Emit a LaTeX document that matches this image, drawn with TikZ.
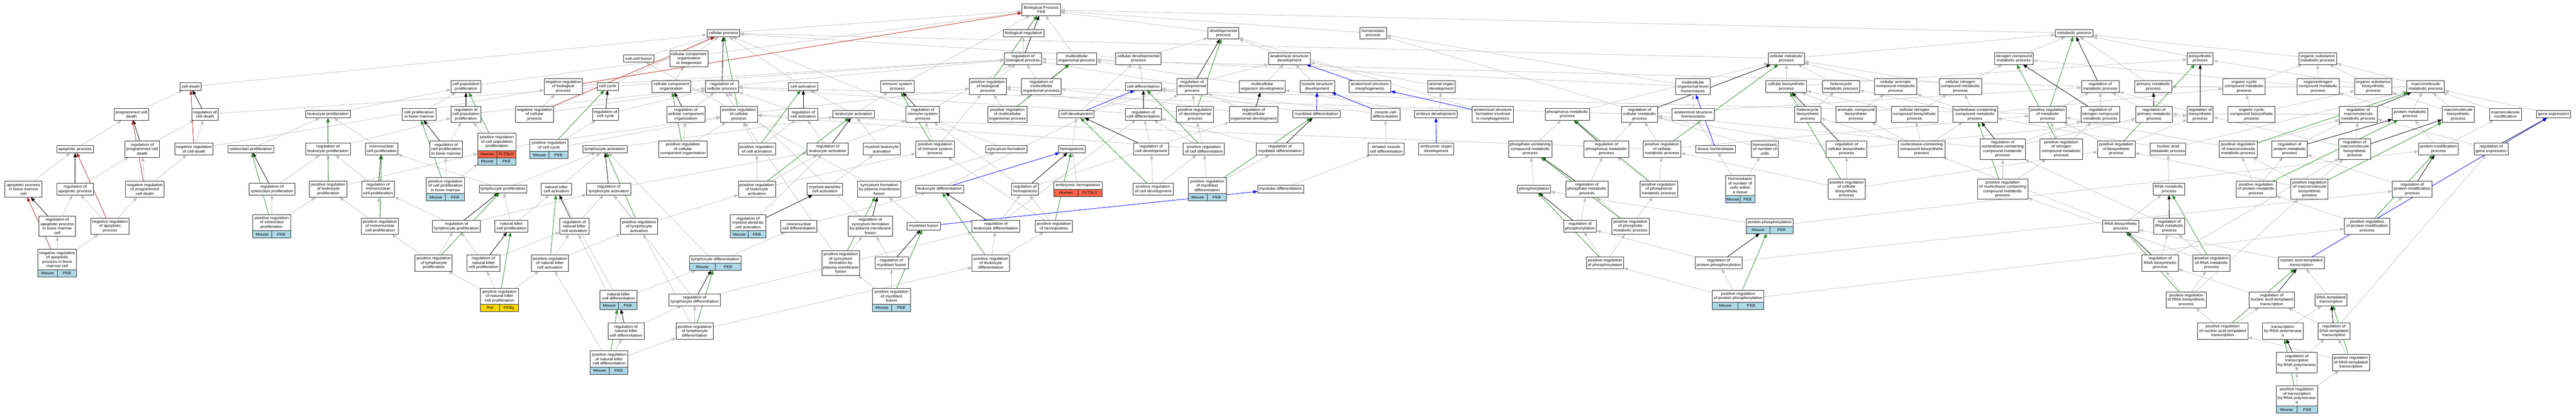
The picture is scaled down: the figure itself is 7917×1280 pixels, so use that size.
\documentclass[tikz,border=0pt]{standalone}
\usepackage{fontspec}
\setmainfont{Liberation Sans}[FakeStretch=1.12]
\usetikzlibrary{arrows.meta,backgrounds}
\definecolor{gedge}{RGB}{192,192,192}
\definecolor{gpos}{RGB}{34,139,34}
\definecolor{gneg}{RGB}{178,34,34}
\definecolor{gpart}{RGB}{0,0,255}
\definecolor{gborder}{RGB}{45,45,45}
\definecolor{mouse}{RGB}{173,216,230}
\definecolor{human}{RGB}{255,99,71}
\definecolor{rat}{RGB}{255,215,0}
\tikzset{
 gofont/.style={font=\fontsize{11.6pt}{13.4pt}\selectfont},
 gobox/.style={draw=gborder, line width=1.4pt, fill=white, inner sep=0pt, outer sep=0pt, align=center, gofont},
 gotext/.style={inner sep=0pt, outer sep=0pt, align=center, gofont},
 boxline/.style={draw=gborder, line width=1.4pt},
 tipstyle/.style={-{Triangle[length=13pt,width=10pt]}},
 isa/.style={draw=gedge, line width=1.2pt, tipstyle},
 regl/.style={draw=black, line width=1.3pt, tipstyle},
 posl/.style={draw=gpos, line width=1.3pt, tipstyle},
 negl/.style={draw=gneg, line width=1.3pt, tipstyle},
 partl/.style={draw=gpart, line width=1.3pt, tipstyle}
}
\newcommand\gon[6]{\node[gobox,minimum width=#4pt,minimum height={9.5pt+13.4pt*#5}] (#1) at (#2,#3) {#6};}
\newcommand\gann[9]{%
 \node[gobox,minimum width=#4pt,minimum height={31.5pt+13.4pt*#5}] (#1) at (#2,#3) {};
 \fill[#7] ([yshift=22pt]#1.south west) rectangle (#1.south east);
 \draw[boxline] ([yshift=22pt]#1.south west) -- ([yshift=22pt]#1.south east) ([yshift=22pt]#1.south) -- (#1.south);
 \draw[boxline] (#1.south west) rectangle (#1.north east);
 \node[gotext] (#1-t) at ([yshift=11pt]#1.center) {#6};
 \node[gotext] (#1-s) at ([yshift=11pt,xshift=-#4pt/4]#1.south) {#8};
 \node[gotext] (#1-g) at ([yshift=11pt,xshift=#4pt/4]#1.south) {#9};
}
\begin{document}
\begin{tikzpicture}[x=1pt,y=-1pt]
\useasboundingbox (0,0) rectangle (7917,1280);
% ---------- region 1
\gon{cd}{586}{266}{66}{1}{cell death}
\gon{pcd}{404}{351}{106}{2}{programmed cell\\death}
\gon{rcd}{630}{351}{81}{2}{regulation of\\cell death}
\gon{ap}{231}{458}{112}{1}{apoptotic process}
\gon{rpcd}{437}{458}{106}{3}{regulation of\\programmed cell\\death}
\gon{nrcd}{596}{458}{118}{2}{negative regulation\\of cell death}
\gon{op}{771}{458}{141}{1}{osteoclast proliferation}
\gon{lp}{1008}{351}{138}{1}{leukocyte proliferation}
\gon{rlp}{1008}{458}{138}{2}{regulation of\\leukocyte proliferation}
\gon{mcp}{1173}{458}{100}{2}{mononuclear\\cell proliferation}
\gon{cpbm}{1288}{351}{103}{2}{cell proliferation\\in bone marrow}
\gon{apbm}{72}{581}{113}{3}{apoptotic process\\in bone marrow\\cell}
\gon{rap}{231}{581}{113}{2}{regulation of\\apoptotic process}
\gon{nrpcd}{445}{581}{119}{3}{negative regulation\\of programmed\\cell death}
\gon{rop}{836}{581}{142}{2}{regulation of\\osteoclast proliferation}
\gon{prlp}{1009}{581}{115}{3}{positive regulation\\of leukocyte\\proliferation}
\gon{rmcp}{1162}{581}{101}{3}{regulation of\\mononuclear\\cell proliferation}
\gon{rapbm}{176}{695}{113}{4}{regulation of\\apoptotic process\\in bone marrow\\cell}
\gon{nrap}{338}{695}{118}{3}{negative regulation\\of apoptotic\\process}
\gann{prop}{835}{695}{116}{3}{positive regulation\\of osteoclast\\proliferation}{mouse}{Mouse}{Flt3l}
\gon{prmcp}{1168}{695}{114}{3}{positive regulation\\of mononuclear\\cell proliferation}
\gann{nrapbm}{176}{808}{119}{4}{negative regulation\\of apoptotic\\process in bone\\marrow cell}{mouse}{Mouse}{Flt3l}
\gon{prlyp}{1333}{808}{114}{3}{positive regulation\\of lymphocyte\\proliferation}
% ---------- region 2
\gon{cp}{2223}{102}{101}{1}{cellular process}
\gon{ccf}{1963}{180}{93}{1}{cell-cell fusion}
\gon{ccob}{2117}{180}{117}{3}{cellular component\\organization\\or biogenesis}
\gon{cpp}{1432}{266}{93}{2}{cell population\\proliferation}
\gon{nrbp}{1731}{266}{118}{3}{negative regulation\\of biological\\process}
\gon{cc}{1868}{266}{65}{1}{cell cycle}
\gon{cco}{2063}{266}{118}{2}{cellular component\\organization}
\gon{rcp}{2219}{266}{101}{2}{regulation of\\cellular process}
\gon{ca}{2469}{266}{90}{1}{cell activation}
\gon{rcpp}{1432}{351}{93}{3}{regulation of\\cell population\\proliferation}
\gon{nrcp}{1643}{351}{117}{3}{negative regulation\\of cellular\\process}
\gon{rcc}{1861}{351}{80}{2}{regulation of\\cell cycle}
\gon{rcco}{2108}{351}{118}{3}{regulation of\\cellular component\\organization}
\gon{prcp}{2271}{351}{114}{3}{positive regulation\\of cellular\\process}
\gon{rca}{2469}{351}{90}{2}{regulation of\\cell activation}
\gon{la}{2624}{351}{128}{1}{leukocyte activation}
\gon{rcpbm}{1371}{458}{101}{3}{regulation of\\cell proliferation\\in bone marrow}
\node[gobox, minimum width=117pt, minimum height={53.7pt+44pt}] (prcpp) at (1527,458) {};
\fill[human] ([yshift=44pt]prcpp.south west) rectangle ([yshift=22pt]prcpp.south east);
\fill[mouse] ([yshift=22pt]prcpp.south west) rectangle (prcpp.south east);
\draw[boxline] ([yshift=44pt]prcpp.south west) -- ([yshift=44pt]prcpp.south east) ([yshift=22pt]prcpp.south west) -- ([yshift=22pt]prcpp.south east) ([yshift=44pt]prcpp.south) -- (prcpp.south);
\draw[boxline] (prcpp.south west) rectangle (prcpp.north east);
\node[gotext] (prcpp-t) at ([yshift=22pt]prcpp.center) {positive regulation\\of cell population\\proliferation};
\node[gotext] (prcpp-s1) at ([yshift=33pt,xshift=-29.25pt]prcpp.south) {Human};
\node[gotext] (prcpp-g1) at ([yshift=33pt,xshift=29.25pt]prcpp.south) {FLT3LG};
\node[gotext] (prcpp-s2) at ([yshift=11pt,xshift=-29.25pt]prcpp.south) {Mouse};
\node[gotext] (prcpp-g2) at ([yshift=11pt,xshift=29.25pt]prcpp.south) {Flt3l};
\gann{prcc}{1687}{458}{116}{2}{positive regulation\\of cell cycle}{mouse}{Mouse}{Flt3l}
\gon{lya}{1859}{458}{136}{1}{lymphocyte activation}
\gon{prcco}{2099}{458}{148}{3}{positive regulation\\of cellular\\component organization}
\gon{prca}{2326}{458}{114}{2}{positive regulation\\of cell activation}
\gon{rla}{2544}{458}{126}{2}{regulation of\\leukocyte activation}
\gann{prcpbm}{1369}{581}{117}{3}{positive regulation\\of cell proliferation\\in bone marrow}{mouse}{Mouse}{Flt3l}
\gon{lyp}{1546}{581}{146}{1}{lymphocyte proliferation}
\gon{nka}{1710}{581}{92}{2}{natural killer\\cell activation}
\gon{rlya}{1871}{581}{137}{2}{regulation of\\lymphocyte activation}
\gon{prla}{2326}{581}{114}{3}{positive regulation\\of leukocyte\\activation}
\gon{mdca}{2535}{581}{108}{2}{myeloid dendritic\\cell activation}
\gon{rlyp}{1403}{695}{148}{2}{regulation of\\lymphocyte proliferation}
\gon{nkp}{1572}{695}{101}{2}{natural killer\\cell proliferation}
\gon{rnka}{1765}{695}{90}{3}{regulation of\\natural killer\\cell activation}
\gon{prlya}{1964}{695}{114}{3}{positive regulation\\of lymphocyte\\activation}
\gann{rmdca}{2299}{695}{108}{3}{regulation of\\myeloid dendritic\\cell activation}{mouse}{Mouse}{Flt3l}
\gon{mcd}{2455}{695}{112}{2}{mononuclear\\cell differentiation}
\gon{rnkp}{1486}{808}{101}{3}{regulation of\\natural killer\\cell proliferation}
\gon{prnka}{1690}{808}{114}{3}{positive regulation\\of natural killer\\cell activation}
\gann{lyd}{2198}{808}{158}{1}{lymphocyte differentiation}{mouse}{Mouse}{Flt3l}
\gon{prsf}{2584}{808}{117}{5}{positive regulation\\of syncytium\\formation by\\plasma membrane\\fusion}
\gann{prnkp}{1535}{921}{116}{3}{positive regulation\\of natural killer\\cell proliferation}{rat}{Rat}{Flt3lg}
\gann{nkd}{1901}{921}{113}{2}{natural killer\\cell differentiation}{mouse}{Mouse}{Flt3l}
\gon{rlyd}{2135}{921}{158}{2}{regulation of\\lymphocyte differentiation}
\gon{rnkd}{1924}{1017}{111}{3}{regulation of\\natural killer\\cell differentiation}
\gon{prlyd}{2135}{1017}{115}{3}{positive regulation\\of lymphocyte\\differentiation}
\gann{prnkd}{1872}{1114}{116}{3}{positive regulation\\of natural killer\\cell differentiation}{mouse}{Mouse}{Flt3l}
% ---------- region 3
\gon{bp}{3200}{30}{119}{2}{Biological Process\\Flt3l}
\gon{br}{3146}{102}{124}{1}{biological regulation}
\gon{dp}{3760}{102}{95}{2}{developmental\\process}
\gon{rbp}{3144}{180}{115}{2}{regulation of\\biological process}
\gon{mop}{3309}{180}{122}{2}{multicellular\\organismal process}
\gon{cdp}{3499}{180}{139}{2}{cellular developmental\\process}
\gon{asd}{3963}{180}{128}{2}{anatomical structure\\development}
\gon{isp}{2758}{266}{102}{2}{immune system\\process}
\gon{prbp}{3036}{266}{113}{3}{positive regulation\\of biological\\process}
\gon{rmop}{3200}{266}{122}{3}{regulation of\\multicellular\\organismal process}
\gon{cdiff}{3514}{266}{111}{1}{cell differentiation}
\gon{rdp}{3664}{266}{94}{3}{regulation of\\developmental\\process}
\gon{mod}{3879}{266}{141}{2}{multicellular\\organism development}
\gon{risp}{2836}{351}{103}{3}{regulation of\\immune system\\process}
\gon{prmop}{3096}{351}{121}{3}{positive regulation\\of multicellular\\organismal process}
\gon{cdev}{3309}{351}{108}{1}{cell development}
\gon{rcdiff}{3514}{351}{111}{2}{regulation of\\cell differentiation}
\gon{prdp}{3673}{351}{114}{3}{positive regulation\\of developmental\\process}
\gon{rmod}{3853}{351}{150}{3}{regulation of\\multicellular\\organismal development}
\gon{mla}{2710}{458}{115}{2}{myeloid leukocyte\\activation}
\gon{prisp}{2874}{458}{118}{3}{positive regulation\\of immune system\\process}
\gon{sf}{3093}{458}{128}{1}{syncytium formation}
\gon{hp}{3294}{458}{82}{1}{hemopoiesis}
\gon{rcdev}{3538}{458}{108}{2}{regulation of\\cell development}
\gon{prcdiff}{3700}{458}{127}{2}{positive regulation\\of cell differentiation}
\gon{rmbd}{3934}{458}{146}{2}{regulation of\\myoblast differentiation}
\gon{sfpm}{2702}{581}{134}{3}{syncytium formation\\by plasma membrane\\fusion}
\gon{ld}{2888}{581}{147}{1}{leukocyte differentiation}
\gon{rhp}{3150}{581}{83}{2}{regulation of\\hemopoiesis}
\gann{ehp}{3313}{581}{148}{1}{embryonic hemopoiesis}{human}{Human}{FLT3LG}
\gon{prcdev}{3544}{581}{123}{2}{positive regulation\\of cell development}
\gann{prmbd}{3710}{581}{117}{3}{positive regulation\\of myoblast\\differentiation}{mouse}{Mouse}{Flt3l}
\gon{mtd}{3936}{581}{142}{1}{myotube differentiation}
\gon{rsf}{2675}{695}{135}{4}{regulation of\\syncytium formation\\by plasma membrane\\fusion}
\gon{mbf}{2839}{695}{103}{1}{myoblast fusion}
\gon{rld}{3061}{695}{147}{2}{regulation of\\leukocyte differentiation}
\gon{prhp}{3239}{695}{115}{2}{positive regulation\\of hemopoiesis}
\gon{rmbf}{2740}{808}{103}{2}{regulation of\\myoblast fusion}
\gon{prld}{3045}{808}{115}{3}{positive regulation\\of leukocyte\\differentiation}
\gann{prmbf}{2740}{921}{117}{3}{positive regulation\\of myoblast\\fusion}{mouse}{Mouse}{Flt3l}
% ---------- region 4
\gon{hsp}{4220}{102}{82}{2}{homeostatic\\process}
\gon{msd}{4048}{266}{106}{2}{muscle structure\\development}
\gon{asm}{4210}{266}{129}{2}{anatomical structure\\morphogenesis}
\gon{aod}{4430}{266}{85}{2}{animal organ\\development}
\gon{molh}{5203}{266}{105}{3}{multicellular\\organismal-level\\homeostasis}
\gon{mbd}{4046}{351}{146}{1}{myoblast differentiation}
\gon{mcdiff}{4258}{351}{88}{2}{muscle cell\\differentiation}
\gon{ed}{4413}{351}{131}{1}{embryo development}
\gon{asfm}{4588}{351}{126}{3}{anatomical structure\\formation involved\\in morphogenesis}
\gon{phmp}{4817}{351}{137}{2}{phosphorus metabolic\\process}
\gon{rcmp}{5039}{351}{111}{3}{regulation of\\cellular metabolic\\process}
\gon{ash}{5204}{351}{129}{2}{anatomical structure\\homeostasis}
\gon{smcd}{4260}{458}{112}{2}{striated muscle\\cell differentiation}
\gon{eod}{4414}{458}{108}{2}{embryonic organ\\development}
\gon{pccmp}{4703}{458}{133}{3}{phosphate-containing\\compound metabolic\\process}
\gon{rphmp}{4937}{458}{137}{3}{regulation of\\phosphorus metabolic\\process}
\gon{prcmp}{5108}{458}{115}{3}{positive regulation\\of cellular\\metabolic process}
\gon{th}{5273}{458}{122}{1}{tissue homeostasis}
\gon{phos}{4715}{581}{101}{1}{phosphorylation}
\gon{rpmp}{4877}{581}{130}{3}{regulation of\\phosphate metabolic\\process}
\gon{prphmp}{5098}{581}{116}{3}{positive regulation\\of phosphorus\\metabolic process}
\gon{rphos}{4856}{695}{101}{2}{regulation of\\phosphorylation}
\gon{prpmp}{5011}{695}{116}{3}{positive regulation\\of phosphate\\metabolic process}
\gon{prphos}{4933}{808}{115}{2}{positive regulation\\of phosphorylation}
\gon{rpp}{5282}{808}{145}{2}{regulation of\\protein phosphorylation}
% ---------- region 5
\gon{mp}{6375}{102}{116}{1}{metabolic process}
\gon{cmp}{5490}{180}{110}{2}{cellular metabolic\\process}
\gon{ncmp}{6189}{180}{119}{2}{nitrogen compound\\metabolic process}
\gon{cbp}{5490}{266}{125}{2}{cellular biosynthetic\\process}
\gon{hmp}{5658}{266}{115}{2}{heterocycle\\metabolic process}
\gon{cacmp}{5826}{266}{130}{3}{cellular aromatic\\compound metabolic\\process}
\gon{cncmp}{6025}{266}{130}{3}{cellular nitrogen\\compound metabolic\\process}
\gon{rmp}{6455}{266}{116}{2}{regulation of\\metabolic process}
\gon{hbp}{5556}{351}{80}{3}{heterocycle\\biosynthetic\\process}
\gon{acbp}{5704}{351}{125}{3}{aromatic compound\\biosynthetic\\process}
\gon{cncbp}{5884}{351}{143}{3}{cellular nitrogen\\compound biosynthetic\\process}
\gon{nbcmp}{6070}{351}{138}{3}{nucleobase-containing\\compound metabolic\\process}
\gon{prmp}{6293}{351}{114}{3}{positive regulation\\of metabolic\\process}
\gon{rncmp}{6455}{351}{119}{3}{regulation of\\nitrogen compound\\metabolic process}
\gon{hnc}{5424}{458}{83}{3}{homeostasis\\of number of\\cells}
\gon{rcbp}{5675}{458}{125}{3}{regulation of\\cellular biosynthetic\\process}
\gon{nbcbp}{5906}{458}{144}{3}{nucleobase-containing\\compound biosynthetic\\process}
\gon{rnbcmp}{6155}{458}{139}{4}{regulation of\\nucleobase-containing\\compound metabolic\\process}
\gon{prncmp}{6335}{458}{131}{4}{positive regulation\\of nitrogen\\compound metabolic\\process}
\gon{prbsp}{6504}{458}{115}{3}{positive regulation\\of biosynthetic\\process}
\gann{hnct}{5348}{581}{90}{4}{homeostasis\\of number of\\cells within\\a tissue}{mouse}{Mouse}{Flt3l}
\gon{prcbp}{5675}{581}{114}{4}{positive regulation\\of cellular\\biosynthetic\\process}
\gon{prnbcmp}{6155}{581}{155}{4}{positive regulation\\of nucleobase-containing\\compound metabolic\\process}
\gann{pp}{5439}{695}{144}{1}{protein phosphorylation}{mouse}{Mouse}{Flt3l}
\gon{rnabp}{6518}{695}{111}{2}{RNA biosynthetic\\process}
\gann{prpp}{5342}{921}{158}{2}{positive regulation\\of protein phosphorylation}{mouse}{Mouse}{Flt3l}
% ---------- region 6
\gon{bsp}{6762}{180}{80}{2}{biosynthetic\\process}
\gon{osmp}{7123}{180}{116}{2}{organic substance\\metabolic process}
\gon{pmp}{6618}{266}{114}{2}{primary metabolic\\process}
\gon{occmp}{6897}{266}{130}{3}{organic cyclic\\compound metabolic\\process}
\gon{oncmp}{7124}{266}{130}{3}{organonitrogen\\compound metabolic\\process}
\gon{osbp}{7294}{266}{114}{3}{organic substance\\biosynthetic\\process}
\gon{mmp}{7455}{266}{116}{2}{macromolecule\\metabolic process}
\gon{rpmp2}{6620}{351}{113}{3}{regulation of\\primary metabolic\\process}
\gon{rbsp}{6762}{351}{80}{3}{regulation of\\biosynthetic\\process}
\gon{occbp}{6920}{351}{144}{3}{organic cyclic\\compound biosynthetic\\process}
\gon{rmmp}{7248}{351}{116}{3}{regulation of\\macromolecule\\metabolic process}
\gon{protmp}{7407}{351}{110}{2}{protein metabolic\\process}
\gon{mbp}{7555}{351}{99}{3}{macromolecule\\biosynthetic\\process}
\gon{mm}{7700}{351}{98}{2}{macromolecule\\modification}
\gon{ge}{7848}{351}{105}{1}{gene expression}
\gon{namp}{6663}{458}{110}{2}{nucleic acid\\metabolic process}
\gon{prmmp}{6879}{458}{116}{3}{positive regulation\\of macromolecule\\metabolic process}
\gon{rprotmp}{7037}{458}{109}{3}{regulation of\\protein metabolic\\process}
\gon{rmbp}{7237}{458}{98}{4}{regulation of\\macromolecule\\biosynthetic\\process}
\gon{pmod}{7494}{458}{122}{2}{protein modification\\process}
\gon{rge}{7656}{458}{105}{2}{regulation of\\gene expression}
\gon{rnamp}{6666}{581}{96}{2}{RNA metabolic\\process}
\gon{prprotmp}{6934}{581}{123}{3}{positive regulation\\of protein metabolic\\process}
\gon{prmbp}{7098}{581}{114}{4}{positive regulation\\of macromolecule\\biosynthetic\\process}
\gon{rpmod}{7414}{581}{122}{3}{regulation of\\protein modification\\process}
\gon{rrnamp}{6667}{695}{96}{3}{regulation of\\RNA metabolic\\process}
\gon{prpmod}{7275}{695}{139}{3}{positive regulation\\of protein modification\\process}
\gon{rrnabp}{6639}{808}{111}{3}{regulation of\\RNA biosynthetic\\process}
\gon{prrnamp}{6797}{808}{114}{3}{positive regulation\\of RNA metabolic\\process}
\gon{natt}{7073}{808}{140}{2}{nucleic acid-templated\\transcription}
\gon{prrnabp}{6719}{921}{125}{3}{positive regulation\\of RNA biosynthetic\\process}
\gon{rnatt}{6982}{921}{140}{3}{regulation of\\nucleic acid-templated\\transcription}
\gon{dtt}{7164}{921}{98}{2}{DNA-templated\\transcription}
\gon{prnatt}{6831}{1017}{155}{3}{positive regulation\\of nucleic acid-templated\\transcription}
\gon{trp2}{7016}{1017}{125}{3}{transcription\\by RNA polymerase\\II}
\gon{rdtt}{7173}{1017}{98}{3}{regulation of\\DNA-templated\\transcription}
\gon{rtrp2}{7059}{1114}{125}{4}{regulation of\\transcription\\by RNA polymerase\\II}
\gon{prdtt}{7225}{1114}{114}{3}{positive regulation\\of DNA-templated\\transcription}
\gann{prtrp2}{7059}{1227}{127}{4}{positive regulation\\of transcription\\by RNA polymerase\\II}{mouse}{Mouse}{Flt3l}
% ---------- edges
\begin{pgfonlayer}{background}
\fill[white] (0,0) rectangle (7917,1280);
\foreach \a/\b in {cd/cp, rcd/rbp, pcd/cd, ap/pcd, rpcd/rcd, nrcd/rcd, nrcd/nrbp, op/lp, lp/cpp, rlp/rcpp, mcp/lp, cpbm/cpp, apbm/ap, rap/rpcd, nrpcd/rpcd, nrpcd/nrcd, rop/rlp, prlp/rlp, prlp/prcpp, rmcp/rlp, rapbm/rap, nrap/rap, nrap/nrpcd, prop/rop, prop/prlp, prmcp/rmcp, prmcp/prlp, nrapbm/rapbm, nrapbm/nrap, prlyp/prmcp, prlyp/rlyp,
 cp/bp, ccf/cp, ccob/cp, cpp/bp, nrbp/rbp, cc/cp, cco/ccob, rcp/rbp, ca/cp, rcpp/rcp, nrcp/nrbp, nrcp/rcp, rcc/rcp, rcco/rcp, prcp/rcp, prcp/prbp, rca/rcp, la/ca, la/isp, rcpbm/rcpp, prcpp/rcpp, prcpp/prcp, prcc/rcc, prcc/prcp, lya/la, prcco/rcco, prcco/prcp, prca/rca, prca/prcp, rla/rca, rla/risp, prcpbm/rcpbm, prcpbm/prcpp, lyp/mcp, lyp/lya, nka/lya, rlya/rla, prla/rla, prla/prca, prla/prisp, mdca/mla, rlyp/rmcp, rlyp/rlya, nkp/lyp, nkp/nka, rnka/rlya, prlya/rlya, prlya/prla, rmdca/rla, mcd/ld, rnkp/rlyp, rnkp/rnka, prnka/rnka, prnka/prlya, lyd/mcd, lyd/lya, prsf/rsf, prsf/prcp, prnkp/rnkp, prnkp/prlyp, prnkp/prnka, nkd/lyd, nkd/nka, rlyd/rld, rlyd/rlya, rnkd/rlyd, rnkd/rnka, prlyd/rlyd, prlyd/prlya, prlyd/prld, prnkd/rnkd, prnkd/prlyd, prnkd/prnka,
 br/bp, dp/bp, rbp/br, mop/bp, cdp/dp, cdp/cp, asd/dp, isp/bp, prbp/rbp, rmop/rbp, cdiff/cdp, rdp/rbp, mod/mop, mod/asd, risp/rbp, prmop/rmop, prmop/prbp, cdev/asd, cdev/cdp, rcdiff/rdp, rcdiff/rcp, prdp/rdp, prdp/prbp, rmod/rmop, rmod/rdp, mla/la, prisp/risp, prisp/prbp, sf/cp, hp/cdev, rcdev/rcdiff, prcdiff/rcdiff, prcdiff/prdp, prcdiff/prcp, rmbd/rcdiff, sfpm/sf, sfpm/ccf, ld/cdiff, rhp/risp, rhp/rmod, ehp/hp, prcdev/rcdev, prcdev/prcdiff, prmbd/rmbd, prmbd/prcdiff, mtd/smcd, rsf/rcp, mbf/sfpm, rld/rhp, rld/rcdiff, prhp/rhp, prhp/prisp, rmbf/rsf, prld/rld, prld/prhp, prmbf/rmbf, prmbf/prsf,
 hsp/bp, msd/asd, aod/asd, molh/hsp, molh/mop, mbd/cdiff, mcdiff/cdiff, ed/mod, asfm/dp, phmp/cmp, rcmp/rcp, rcmp/rmp, ash/molh, smcd/mcdiff, eod/aod, pccmp/phmp, rphmp/rcmp, prcmp/rcmp, prcmp/prcp, prcmp/prmp, th/ash, phos/pccmp, rpmp/rphmp, prphmp/rphmp, prphmp/prcmp, rphos/rpmp, prpmp/rpmp, prpmp/prphmp, prphos/rphos, prphos/prpmp, rpp/rphos, rpp/rpmod,
 mp/bp, cmp/mp, cmp/cp, ncmp/mp, cbp/cmp, cbp/bsp, hmp/cmp, cacmp/cmp, cncmp/cmp, cncmp/ncmp, rmp/rbp, hbp/hmp, hbp/cbp, acbp/cacmp, acbp/cbp, cncbp/cncmp, cncbp/cbp, nbcmp/cncmp, nbcmp/hmp, nbcmp/cacmp, nbcmp/occmp, prmp/rmp, prmp/prbp, rncmp/rmp, hnc/hsp, rcbp/rcmp, rcbp/rbsp, nbcbp/nbcmp, nbcbp/cncbp, nbcbp/hbp, nbcbp/acbp, rnbcmp/rncmp, rnbcmp/rcmp, rnbcmp/rpmp2, prncmp/rncmp, prncmp/prmp, prbsp/rbsp, prbsp/prmp, hnct/hnc, hnct/th, prcbp/rcbp, prcbp/prcmp, prcbp/prbsp, prnbcmp/rnbcmp, prnbcmp/prncmp, pp/phos, pp/pmod, rnabp/rnamp, rnabp/nbcbp, prpp/rpp, prpp/prphos, prpp/prpmod,
 bsp/mp, osmp/mp, pmp/mp, occmp/osmp, oncmp/osmp, oncmp/ncmp, osbp/osmp, osbp/bsp, mmp/osmp, mmp/pmp, rpmp2/rmp, rbsp/rmp, occbp/occmp, occbp/osbp, rmmp/rpmp2, protmp/mmp, protmp/oncmp, mbp/mmp, mbp/osbp, mm/mmp, ge/mmp, namp/nbcmp, namp/mmp, prmmp/rmmp, prmmp/prmp, rprotmp/rmmp, rmbp/rmmp, rmbp/rbsp, pmod/protmp, pmod/mm, rge/rmmp, rnamp/namp, prprotmp/rprotmp, prprotmp/prmmp, prmbp/rmbp, prmbp/prmmp, prmbp/prbsp, rpmod/rprotmp, rrnamp/rnbcmp, prpmod/rpmod, prpmod/prprotmp, rrnabp/rrnamp, rrnabp/rmbp, prrnamp/rrnamp, prrnamp/prnbcmp, natt/rnabp, prrnabp/rrnabp, prrnabp/prrnamp, prrnabp/prmbp, rnatt/rrnabp, dtt/natt, prnatt/rnatt, prnatt/prrnabp, trp2/dtt, rdtt/rnatt, rdtt/rge, rtrp2/rdtt, prdtt/rdtt, prdtt/prnatt, prtrp2/rtrp2, prtrp2/prdtt}
 \draw[isa] (\a) -- (\b);
\foreach \a/\b in {rcd/cd, rpcd/pcd, rlp/lp, rap/ap, rop/op, rmcp/mcp, rapbm/apbm, rcp/cp, rcpp/cpp, rcc/cc, rcco/cco, rca/ca, rla/la, rcpbm/cpbm, rlya/lya, rlyp/lyp, rnka/nka, rmdca/mdca, rnkp/nkp, rlyd/lyd, rnkd/nkd, rbp/bp, rmop/mop, rdp/dp, risp/isp, rcdiff/cdiff, rmod/mod, rcdev/cdev, rmbd/mbd, rsf/sfpm, rhp/hp, rld/ld, rmbf/mbf, rcmp/cmp, rphmp/phmp, rpmp/pccmp, rphos/phos, rpp/pp, rmp/mp, rncmp/ncmp, rcbp/cbp, rnbcmp/nbcmp, rpmp2/pmp, rbsp/bsp, rmmp/mmp, rprotmp/protmp, rmbp/mbp, rge/ge, rpmod/pmod, rrnamp/rnamp, rrnabp/rnabp, rnatt/natt, rdtt/dtt, rtrp2/trp2}
 \draw[regl] (\a) -- (\b);
\foreach \a/\b in {prlp/lp, prop/op, prmcp/mcp, prlyp/lyp, prcpbm/cpbm, prcp/cp, prcpp/cpp, prcc/cc, prcco/cco, prca/ca, prla/la, prlya/lya, prnka/nka, prsf/sfpm, prnkp/nkp, prlyd/lyd, prnkd/nkd, prbp/bp, prmop/mop, prdp/dp, prisp/isp, prcdiff/cdiff, prcdev/cdev, prmbd/mbd, prhp/hp, prld/ld, prmbf/mbf, prcmp/cmp, prphmp/phmp, prpmp/pccmp, prphos/phos, prmp/mp, prncmp/ncmp, prbsp/bsp, prcbp/cbp, prnbcmp/nbcmp, prpp/pp, prmmp/mmp, prprotmp/protmp, prmbp/mbp, prpmod/pmod, prrnamp/rnamp, prrnabp/rnabp, prnatt/natt, prdtt/dtt, prtrp2/trp2}
 \draw[posl] (\a) -- (\b);
\foreach \a/\b in {nrcd/cd, nrpcd/pcd, nrap/ap, nrapbm/apbm, nrbp/bp, nrcp/cp}
 \draw[negl] (\a) -- (\b);
\foreach \a/\b in {cdev/cdiff, ld/hp, mbf/mtd, asm/asd, mbd/msd, mcdiff/msd, asfm/asm, eod/ed, th/molh, natt/ge}
 \draw[partl] (\a) -- (\b);
\end{pgfonlayer}
\end{tikzpicture}
\end{document}
